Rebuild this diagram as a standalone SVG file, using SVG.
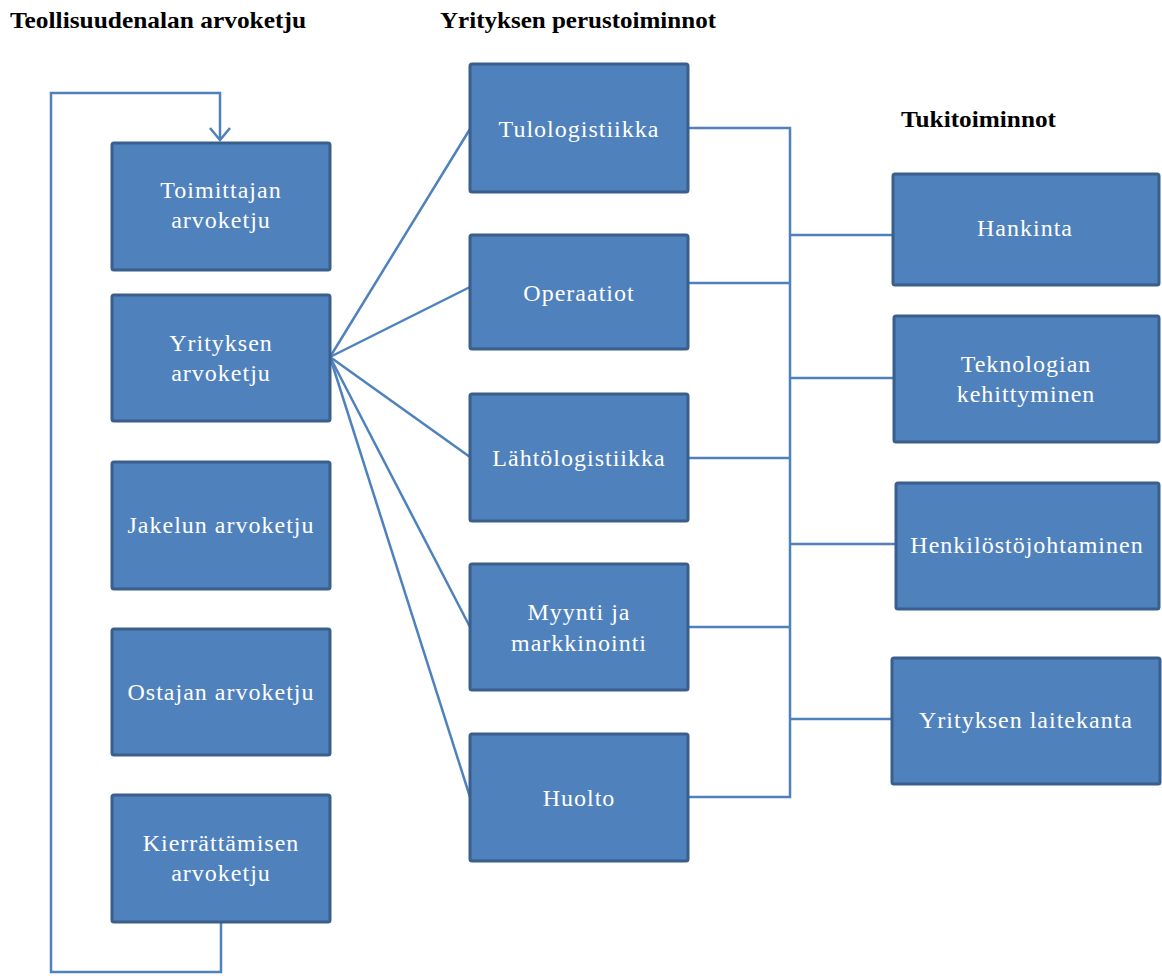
<svg xmlns="http://www.w3.org/2000/svg" width="1162" height="976" viewBox="0 0 1162 976">
  <style>
    .box { fill: #4F81BD; stroke: #3A5F8B; stroke-width: 3; }
    .lbl { font-family: "Liberation Serif", "Times New Roman", serif; font-size: 24px; letter-spacing: 1px; fill: #FFFFFF; text-anchor: middle; }
    .head { font-family: "Liberation Serif", "Times New Roman", serif; font-size: 23px; font-weight: bold; fill: #000000; }
    .conn { fill: none; stroke: #4F81BD; stroke-width: 2.5; }
  </style>

  <!-- section headings -->
  <text class="head" x="10" y="28" textLength="296" lengthAdjust="spacingAndGlyphs">Teollisuudenalan arvoketju</text>
  <text class="head" x="440" y="28" textLength="276" lengthAdjust="spacingAndGlyphs">Yrityksen perustoiminnot</text>
  <text class="head" x="901" y="127" textLength="155" lengthAdjust="spacingAndGlyphs">Tukitoiminnot</text>

  <!-- connectors -->
  <g id="connectors">
    <!-- feedback loop from recycling back to supplier chain -->
    <path class="conn" d="M221,922 V972 H51 V93 H220 V140"/>
    <path d="M210,128 L220,140 L230,128" fill="none" stroke="#4F81BD" stroke-width="2.5"/>
    <!-- fan from company value chain to primary activities -->
    <path class="conn" d="M330,357 L470,129"/>
    <path class="conn" d="M330,357 L470,287"/>
    <path class="conn" d="M330,357 L470,457"/>
    <path class="conn" d="M330,357 L470,627"/>
    <path class="conn" d="M330,357 L470,797"/>
    <!-- primary activities to support bus -->
    <path class="conn" d="M688,128 H790 V797 H688"/>
    <path class="conn" d="M688,283 H790"/>
    <path class="conn" d="M688,458 H790"/>
    <path class="conn" d="M688,627 H790"/>
    <!-- support bus to support activities -->
    <path class="conn" d="M790,235 H893"/>
    <path class="conn" d="M790,378 H894"/>
    <path class="conn" d="M790,544 H896"/>
    <path class="conn" d="M790,719 H892"/>
  </g>

  <!-- industry value chain -->
  <g id="toimittajan">
    <rect class="box" x="112" y="143" width="218" height="127" rx="2"/>
    <text class="lbl" x="221" y="198">Toimittajan</text>
    <text class="lbl" x="221" y="228">arvoketju</text>
  </g>
  <g id="yrityksen-arvoketju">
    <rect class="box" x="112" y="295" width="218" height="126" rx="2"/>
    <text class="lbl" x="221" y="351">Yrityksen</text>
    <text class="lbl" x="221" y="381">arvoketju</text>
  </g>
  <g id="jakelun">
    <rect class="box" x="112" y="462" width="218" height="127" rx="2"/>
    <text class="lbl" x="221" y="533">Jakelun arvoketju</text>
  </g>
  <g id="ostajan">
    <rect class="box" x="112" y="629" width="218" height="126" rx="2"/>
    <text class="lbl" x="221" y="700">Ostajan arvoketju</text>
  </g>
  <g id="kierrattamisen">
    <rect class="box" x="112" y="795" width="218" height="127" rx="2"/>
    <text class="lbl" x="221" y="851">Kierrättämisen</text>
    <text class="lbl" x="221" y="881">arvoketju</text>
  </g>

  <!-- primary activities -->
  <g id="tulologistiikka">
    <rect class="box" x="470" y="64" width="218" height="128" rx="2"/>
    <text class="lbl" x="579" y="137">Tulologistiikka</text>
  </g>
  <g id="operaatiot">
    <rect class="box" x="470" y="235" width="218" height="114" rx="2"/>
    <text class="lbl" x="579" y="301">Operaatiot</text>
  </g>
  <g id="lahtologistiikka">
    <rect class="box" x="470" y="394" width="218" height="127" rx="2"/>
    <text class="lbl" x="579" y="466">Lähtölogistiikka</text>
  </g>
  <g id="myynti">
    <rect class="box" x="470" y="564" width="218" height="126" rx="2"/>
    <text class="lbl" x="579" y="620">Myynti ja</text>
    <text class="lbl" x="579" y="651">markkinointi</text>
  </g>
  <g id="huolto">
    <rect class="box" x="470" y="734" width="218" height="127" rx="2"/>
    <text class="lbl" x="579" y="806">Huolto</text>
  </g>

  <!-- support activities -->
  <g id="hankinta">
    <rect class="box" x="893" y="174" width="266" height="111" rx="2"/>
    <text class="lbl" x="1025" y="236">Hankinta</text>
  </g>
  <g id="teknologian">
    <rect class="box" x="894" y="316" width="265" height="126" rx="2"/>
    <text class="lbl" x="1026" y="372">Teknologian</text>
    <text class="lbl" x="1026" y="402">kehittyminen</text>
  </g>
  <g id="henkilosto">
    <rect class="box" x="896" y="483" width="263" height="126" rx="2"/>
    <text class="lbl" x="1027" y="553">Henkilöstöjohtaminen</text>
  </g>
  <g id="laitekanta">
    <rect class="box" x="892" y="658" width="268" height="126" rx="2"/>
    <text class="lbl" x="1026" y="728">Yrityksen laitekanta</text>
  </g>
</svg>
